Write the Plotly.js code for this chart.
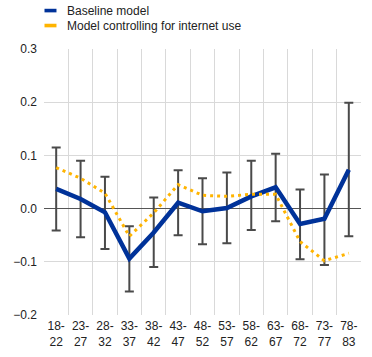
<!DOCTYPE html>
<html><head><meta charset="utf-8">
<script src="https://cdn.plot.ly/plotly-3.0.1.min.js"></script>
<style>html,body{margin:0;padding:0;background:#fff}#chart{width:372px;height:357px}</style>
</head><body><div id="chart"></div>
<script>
var categories = ["18-<br>22","23-<br>27","28-<br>32","33-<br>37","38-<br>42","43-<br>47","48-<br>52","53-<br>57","58-<br>62","63-<br>67","68-<br>72","73-<br>77","78-<br>83"];
var seriesNames = ["Baseline model", "Model controlling for internet use"];
var baseline = [0.037,0.018,-0.007,-0.094,-0.045,0.011,-0.005,0.001,0.023,0.040,-0.029,-0.019,0.073];
var ciUpper  = [0.115,0.090,0.060,-0.033,0.021,0.072,0.057,0.068,0.090,0.103,0.036,0.064,0.199];
var ciLower  = [-0.041,-0.054,-0.076,-0.156,-0.110,-0.050,-0.067,-0.065,-0.040,-0.024,-0.095,-0.106,-0.052];
var internet = [0.077,0.057,0.029,-0.052,-0.008,0.045,0.025,0.023,0.027,0.027,-0.062,-0.098,-0.084];

var xIdx = categories.map(function(c,i){return i;});
var errPlus = baseline.map(function(v,i){return ciUpper[i]-v;});
var errMinus = baseline.map(function(v,i){return v-ciLower[i];});

var W = 372, H = 357, M = {l:43.5, r:11, t:48.5, b:42};
var PW = W - M.l - M.r, PH = H - M.t - M.b;
function px2x(p){return (p - M.l)/PW;}
function px2y(p){return (H - M.b - p)/PH;}

var colors = ["#003299", "#FFB400"];
var font = {family:"Liberation Sans, Arial, sans-serif", size:12, color:"#222"};
var traces = [
  {x:xIdx, y:baseline, type:"scatter", mode:"markers", showlegend:false, hoverinfo:"skip",
   marker:{size:1, color:"rgba(0,0,0,0)"},
   error_y:{type:"data", symmetric:false, array:errPlus, arrayminus:errMinus, color:"#4a4a4a", thickness:2, width:4.5}},
  {x:xIdx, y:baseline, type:"scatter", mode:"lines", name:seriesNames[0], showlegend:false,
   line:{color:colors[0], width:4.5}},
  {x:xIdx, y:internet, type:"scatter", mode:"lines", name:seriesNames[1], showlegend:false,
   line:{color:colors[1], width:3, dash:"3px,4px"}}
];
var legendRows = [10, 25];
var shapes = [], annotations = [];
legendRows.forEach(function(yc, i){
  shapes.push({type:"rect", xref:"paper", yref:"paper", x0:px2x(44), x1:px2x(56), y0:px2y(yc-1.8), y1:px2y(yc+1.8),
               fillcolor:colors[i], line:{width:0}});
  annotations.push({xref:"paper", yref:"paper", x:px2x(65), y:px2y(yc), xanchor:"left", yanchor:"middle",
                    text:seriesNames[i], showarrow:false, font:font});
});
var layout = {
  width:W, height:H,
  margin:{l:M.l, r:M.r, t:M.t, b:M.b, autoexpand:false},
  paper_bgcolor:"#fff", plot_bgcolor:"#fff",
  font:font,
  showlegend:false,
  shapes:shapes, annotations:annotations,
  xaxis:{range:[-0.5, categories.length - 0.5], tickmode:"array", tickvals:xIdx, ticktext:categories,
         showgrid:false, tickangle:0, automargin:false, ticks:"", showline:false, zeroline:false, tickfont:font,
         ticklabelstandoff:2,
         minor:{tick0:-0.5, dtick:1, showgrid:true, gridcolor:"#d9d9d9", gridwidth:1, ticks:""}},
  yaxis:{range:[-0.2,0.3], dtick:0.1, tick0:0, tickformat:".1f", showgrid:true, gridcolor:"#d9d9d9", gridwidth:1,
         zeroline:true, zerolinecolor:"#555", zerolinewidth:1, ticks:"", showline:false, tickfont:font,
         ticklabelstandoff:6, automargin:false}
};
Plotly.newPlot("chart", traces, layout, {displayModeBar:false, staticPlot:true});
</script></body></html>
